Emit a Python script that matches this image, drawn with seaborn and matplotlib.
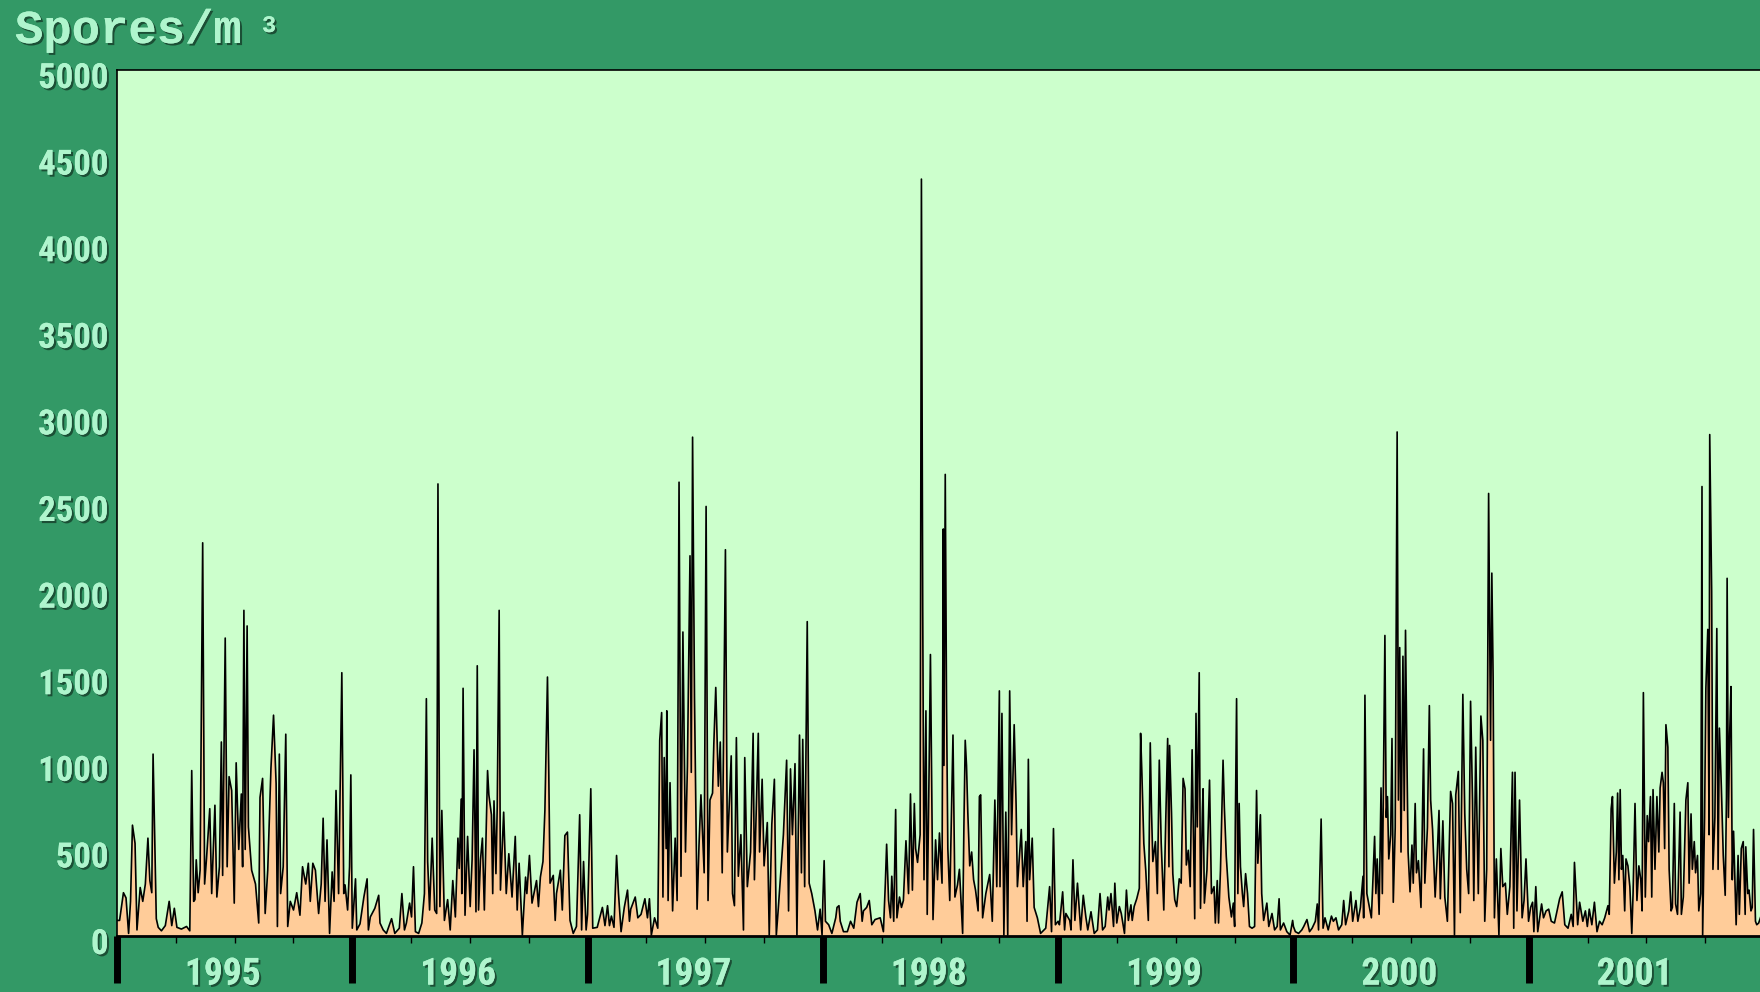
import numpy as np
import pandas as pd
import matplotlib
matplotlib.use('Agg')
import matplotlib.pyplot as plt
import matplotlib.patheffects as pe
from matplotlib import font_manager
from matplotlib.transforms import ScaledTranslation
import seaborn as sns

# Daily spore counts (day of year, spores/m3), one pair of lists per year
days_1995 = [0, 4, 10, 14, 18, 21, 24, 28, 31, 36, 40, 44, 48, 51, 54, 56, 61, 64, 69, 75, 81, 85, 89, 93,
             100, 108, 113, 116, 119, 121, 123, 126, 129, 133, 136, 139, 144, 147, 152, 155, 159, 162, 164,
             168, 171, 174, 178, 182, 185, 189, 193, 195, 197, 199, 202, 204, 209, 215, 220, 222, 226, 230,
             234, 239, 243, 247, 249, 252, 254, 258, 262, 265, 269, 274, 279, 284, 288, 293, 297, 300, 304,
             308, 313, 317, 320, 323, 326, 330, 334, 337, 340, 344, 349, 352, 354, 358, 361, 363]
spores_1995 = [90, 90, 250, 220, 15, 200, 640, 535, 35, 280, 200, 300, 565, 320, 250, 1050, 100, 50, 30, 60,
               200, 60, 160, 50, 40, 55, 30, 955, 200, 210, 440, 250, 380, 2270, 300, 450, 735, 245, 755, 225,
               400, 1120, 350, 1720, 400, 920, 840, 190, 1000, 500, 820, 400, 1880, 500, 1790, 630, 380, 300,
               75, 800, 910, 130, 380, 970, 1275, 880, 55, 1050, 245, 400, 1165, 55, 200, 150, 250, 120, 400,
               300, 420, 200, 420, 380, 130, 300, 680, 200, 555, 15, 370, 200, 840, 245, 1520, 245, 295, 150,
               400, 930]

days_1996 = [0, 5, 7, 12, 18, 23, 25, 28, 35, 41, 43, 48, 53, 61, 66, 73, 77, 81, 84, 89, 92, 95, 98, 103,
             108, 112, 115, 117, 120, 124, 128, 131, 133, 136, 139, 143, 148, 152, 156, 160, 164, 166, 169,
             170, 172, 175, 179, 183, 186, 189, 192, 194, 196, 199, 202, 205, 210, 212, 216, 218, 220, 223,
             225, 228, 230, 233, 235, 239, 243, 248, 253, 256, 259, 264, 269, 271, 275, 279, 286, 289, 292,
             296, 299, 303, 305, 307, 312, 315, 317, 323, 326, 330, 334, 338, 343, 348, 353, 356, 359, 363]
spores_1996 = [45, 330, 35, 70, 225, 330, 35, 110, 160, 235, 75, 35, 15, 100, 15, 45, 245, 35, 75, 190, 110,
               400, 25, 15, 75, 245, 1370, 430, 150, 565, 150, 130, 2610, 170, 725, 90, 210, 35, 320, 110,
               565, 390, 790, 245, 1430, 120, 575, 170, 440, 1075, 140, 1560, 150, 440, 565, 150, 955, 815,
               700, 245, 780, 360, 745, 1880, 265, 535, 715, 245, 475, 225, 575, 150, 420, 5, 340, 245, 465,
               190, 320, 170, 340, 430, 725, 1495, 950, 305, 350, 90, 245, 380, 150, 580, 600, 90, 15, 55,
               700, 35, 430, 35]

days_1997 = [0, 5, 8, 15, 23, 27, 31, 34, 37, 41, 45, 48, 52, 57, 62, 65, 67, 74, 78, 83, 89, 93, 96, 99,
             104, 109, 112, 115, 117, 119, 122, 123, 125, 128, 132, 136, 139, 142, 145, 148, 152, 155, 159,
             161, 163, 166, 170, 173, 176, 181, 184, 187, 190, 194, 196, 199, 203, 206, 209, 214, 217, 223,
             225, 228, 231, 234, 238, 242, 244, 248, 253, 257, 259, 265, 267, 271, 274, 279, 282, 286, 290,
             293, 296, 304, 309, 312, 315, 318, 322, 325, 329, 332, 334, 337, 341, 344, 348, 353, 357, 361,
             364]
spores_1997 = [125, 850, 45, 50, 165, 60, 175, 60, 115, 50, 465, 245, 25, 165, 265, 85, 155, 225, 105, 125,
               215, 105, 215, 5, 105, 45, 1130, 1290, 225, 1030, 505, 1300, 205, 885, 145, 565, 205, 2620,
               345, 1755, 485, 980, 2195, 945, 2880, 1370, 155, 525, 815, 365, 2480, 205, 785, 825, 1110,
               1435, 865, 1120, 365, 2230, 485, 1040, 245, 175, 1145, 345, 585, 35, 1030, 285, 485, 1170, 325,
               1170, 485, 905, 405, 655, 5, 645, 905, 5, 155, 585, 1015, 145, 965, 585, 995, 5, 1160, 365,
               1135, 285, 1815, 305, 245, 145, 35, 155, 5]

days_1998 = [0, 2, 4, 9, 14, 20, 22, 25, 27, 32, 38, 43, 48, 53, 58, 61, 63, 68, 72, 76, 81, 89, 94, 97, 99,
             102, 105, 107, 110, 113, 115, 119, 122, 125, 129, 133, 136, 139, 142, 144, 147, 151, 153, 155,
             157, 160, 162, 165, 167, 171, 175, 178, 181, 185, 187, 188, 190, 192, 194, 197, 202, 205, 209,
             212, 217, 219, 221, 223, 225, 228, 231, 234, 237, 241, 243, 245, 248, 253, 259, 263, 267, 270,
             274, 275, 278, 281, 284, 287, 290, 293, 297, 300, 302, 308, 311, 315, 317, 319, 321, 325, 328,
             333, 338, 346, 352, 355, 358, 361]
spores_1998 = [205, 435, 85, 65, 15, 105, 165, 175, 85, 25, 25, 85, 45, 195, 245, 85, 145, 165, 205, 65, 95,
               105, 25, 305, 530, 205, 105, 345, 85, 730, 105, 225, 165, 205, 550, 245, 820, 265, 765, 505,
               425, 585, 4370, 1890, 325, 1300, 125, 985, 1625, 95, 555, 325, 595, 305, 2350, 985, 2665, 1330,
               505, 205, 1160, 225, 295, 385, 15, 645, 1130, 985, 715, 405, 485, 325, 265, 145, 805, 815, 105,
               245, 355, 85, 785, 285, 1415, 285, 1285, 5, 715, 5, 1415, 585, 1220, 755, 285, 615, 285, 545,
               85, 1020, 325, 565, 165, 105, 15, 45, 285, 25, 620, 65]

days_1999 = [0, 2, 7, 10, 12, 18, 20, 23, 26, 30, 35, 39, 43, 46, 51, 56, 61, 65, 69, 73, 77, 79, 82, 86,
             88, 91, 95, 98, 103, 106, 109, 113, 115, 118, 122, 126, 128, 130, 133, 136, 140, 143, 145, 147,
             151, 154, 157, 160, 164, 167, 170, 172, 173, 176, 178, 181, 184, 188, 191, 194, 197, 199, 202,
             205, 208, 212, 214, 216, 219, 221, 224, 225, 227, 231, 235, 238, 242, 244, 247, 249, 252, 256,
             258, 261, 265, 269, 272, 274, 275, 277, 279, 281, 283, 286, 288, 291, 294, 297, 301, 305, 308,
             310, 314, 316, 319, 324, 327, 332, 336, 340, 343, 345, 350, 355, 360, 364]
spores_1999 = [85, 65, 255, 35, 130, 90, 35, 440, 90, 305, 35, 235, 110, 35, 140, 15, 35, 245, 35, 55, 225,
               150, 245, 55, 305, 75, 170, 130, 15, 265, 90, 180, 90, 170, 215, 275, 1170, 940, 535, 380, 90,
               1115, 710, 430, 545, 245, 1015, 535, 150, 660, 1140, 400, 1100, 710, 360, 210, 170, 330, 305,
               910, 850, 410, 495, 285, 1075, 100, 1285, 630, 1520, 160, 725, 850, 190, 380, 900, 245, 285,
               75, 320, 75, 380, 1015, 745, 460, 225, 110, 190, 55, 630, 1370, 245, 765, 400, 245, 170, 360,
               245, 55, 45, 55, 840, 420, 700, 245, 90, 190, 55, 130, 35, 55, 215, 35, 75, 25, 5, 90]

days_2000 = [0, 3, 8, 13, 16, 21, 25, 29, 34, 37, 39, 43, 46, 49, 54, 59, 62, 66, 70, 75, 78, 81, 86, 89, 92,
             97, 100, 104, 106, 108, 109, 111, 114, 116, 121, 123, 126, 128, 130, 133, 136, 138, 140, 142,
             144, 146, 148, 151, 153, 155, 158, 161, 163, 165, 167, 170, 172, 174, 176, 178, 181, 184, 186,
             189, 191, 194, 198, 202, 204, 208, 211, 213, 216, 220, 223, 226, 228, 232, 235, 239, 244, 247,
             250, 252, 256, 259, 263, 266, 269, 272, 275, 278, 280, 283, 287, 291, 294, 297, 300, 303, 306,
             308, 310, 312, 315, 319, 322, 325, 329, 332, 336, 340, 342, 344, 347, 351, 355, 358, 361, 365]
spores_2000 = [55, 25, 15, 35, 55, 95, 25, 45, 85, 185, 35, 675, 45, 105, 35, 115, 85, 105, 35, 65, 205, 65,
               145, 255, 85, 205, 85, 165, 255, 345, 105, 1390, 245, 205, 105, 285, 575, 245, 445, 125, 855,
               245, 1015, 1735, 685, 805, 445, 585, 1140, 195, 625, 2910, 785, 1665, 485, 1615, 725, 1765, 1090,
               485, 255, 525, 305, 765, 365, 435, 165, 1080, 305, 625, 1330, 785, 615, 225, 445, 725, 215, 665,
               225, 85, 835, 765, 5, 815, 950, 135, 1395, 705, 385, 245, 1355, 785, 205, 1090, 245, 1270, 1130,
               85, 385, 2555, 1130, 2095, 1490, 105, 445, 5, 505, 285, 305, 125, 285, 945, 45, 945, 145, 785,
               105, 205, 445, 85]

days_2001 = [3, 6, 8, 11, 14, 20, 23, 27, 31, 35, 40, 44, 48, 52, 56, 61, 66, 69, 71, 74, 76, 79, 84, 88,
             91, 94, 98, 102, 106, 110, 114, 118, 123, 125, 128, 130, 133, 136, 138, 140, 142, 144, 146, 149,
             151, 154, 157, 160, 162, 165, 168, 171, 174, 176, 178, 181, 184, 186, 189, 191, 193, 196, 199,
             202, 204, 207, 209, 211, 213, 216, 218, 221, 223, 226, 228, 231, 235, 237, 240, 244, 247, 249,
             252, 254, 257, 259, 262, 264, 267, 269, 270, 273, 275, 278, 280, 281, 284, 286, 289, 292, 294,
             296, 299, 302, 305, 307, 308, 310, 312, 314, 316, 318, 322, 325, 327, 330, 333, 336, 337, 340,
             342, 345, 347, 349, 352, 354, 357, 361, 364]
spores_2001 = [165, 195, 25, 285, 25, 185, 105, 145, 155, 85, 75, 145, 215, 255, 65, 45, 125, 55, 425, 205,
               65, 195, 85, 145, 55, 155, 65, 195, 25, 85, 65, 105, 175, 125, 735, 805, 305, 485, 825, 325,
               845, 385, 465, 145, 445, 405, 285, 15, 245, 765, 205, 405, 325, 145, 1405, 225, 695, 545, 805,
               225, 845, 385, 805, 485, 855, 945, 885, 505, 1220, 1090, 385, 145, 165, 765, 185, 125, 715, 125,
               225, 785, 885, 305, 705, 385, 545, 365, 465, 145, 245, 2595, 5, 685, 1430, 1770, 585, 2895,
               1990, 385, 685, 1775, 385, 1200, 865, 465, 235, 805, 2065, 685, 1170, 1440, 325, 605, 65, 465,
               125, 505, 545, 125, 515, 245, 265, 145, 165, 615, 85, 65, 75, 120, 90]

years = [1995, 1996, 1997, 1998, 1999, 2000, 2001]
year_days = [days_1995, days_1996, days_1997, days_1998, days_1999, days_2000, days_2001]
year_spores = [spores_1995, spores_1996, spores_1997, spores_1998, spores_1999, spores_2000, spores_2001]
y_ticks = list(range(0, 5001, 500))

frames = []
for yr, d, s in zip(years, year_days, year_spores):
    frames.append(pd.DataFrame({'t': yr + np.array(d) / 365.25, 'spores': s}))
df = pd.concat(frames, ignore_index=True)

# Colours
bg_color = '#339966'
plot_bg = '#CCFFCC'
fill_color = '#FFCC99'
text_color = '#AFF5CD'
shadow_color = '#1B4F35'

sns.set_theme(style='white')

# pick a narrow bold face for the numbers if one is installed
installed = {f.name for f in font_manager.fontManager.ttflist}
narrow = [n for n in ['Liberation Sans Narrow', 'Roboto Condensed', 'DejaVu Sans Condensed',
                      'Open Sans Condensed', 'Noto Sans'] if n in installed]
num_family = narrow + ['DejaVu Sans']
plt.rcParams['font.family'] = num_family

fig = plt.figure(figsize=(17.6, 9.92), dpi=100, facecolor=bg_color)
W, H = 1760, 992
ax = fig.add_axes([117 / W, 56 / H, 1647 / W, 866 / H])
ax.set_facecolor(plot_bg)

ax.fill_between(df['t'], df['spores'], 0, color=fill_color, lw=0, zorder=1)
sns.lineplot(data=df, x='t', y='spores', color='black', linewidth=1.2, estimator=None, ax=ax, zorder=2)

ax.set_xlim(1995, 2002)
ax.set_ylim(0, 5000)
ax.set_xlabel('')
ax.set_ylabel('')

shadow = [pe.withSimplePatchShadow(offset=(1.5, -1.5), shadow_rgbFace=shadow_color, alpha=1.0), pe.Normal()]
num_font = dict(family=num_family, weight='bold', stretch='condensed')

# y axis
ax.set_yticks(y_ticks)
ax.set_yticklabels([str(v) for v in y_ticks])
ax.tick_params(axis='y', length=0, pad=6)
down = ScaledTranslation(0, -5 / 100, fig.dpi_scale_trans)
for lab in ax.get_yticklabels():
    lab.set_fontsize(25)
    lab.set_fontweight('bold')
    lab.set_fontstretch('condensed')
    lab.set_color(text_color)
    lab.set_path_effects(shadow)
    lab.set_transform(lab.get_transform() + down)

# x axis: thick year ticks, thin quarter ticks, labels placed within each year
ax.set_xticks(list(range(1995, 2003)))
ax.set_xticklabels([])
ax.set_xticks([y + q / 4 for y in range(1995, 2002) for q in (1, 2, 3)], minor=True)
ax.tick_params(axis='x', which='major', direction='out', length=34, width=5, color='black', bottom=True)
ax.tick_params(axis='x', which='minor', direction='out', length=5, width=1, color='black', bottom=True)
for yr in years:
    ax.text(yr + 0.45, -0.044, str(yr), transform=ax.get_xaxis_transform(), ha='center', va='center',
            fontsize=27, color=text_color, path_effects=shadow, clip_on=False, **num_font)

for side in ['top', 'left', 'bottom', 'right']:
    ax.spines[side].set_color('black')
ax.spines['top'].set_linewidth(1.2)
ax.spines['left'].set_linewidth(1.2)
ax.spines['bottom'].set_linewidth(2)
ax.grid(False)

# Units label in the top left corner
fig.text(15 / W, 1 - 43 / H, 'Spores/m', family=['Liberation Mono', 'DejaVu Sans Mono'], fontweight='bold',
         fontsize=34, color=text_color, va='baseline', ha='left', path_effects=shadow)
fig.text(262 / W, 1 - 32 / H, '3', family=['Liberation Mono', 'DejaVu Sans Mono'], fontweight='bold',
         fontsize=17, color=text_color, va='baseline', ha='left', path_effects=shadow)

fig.savefig('out.png', dpi=100, facecolor=bg_color)
